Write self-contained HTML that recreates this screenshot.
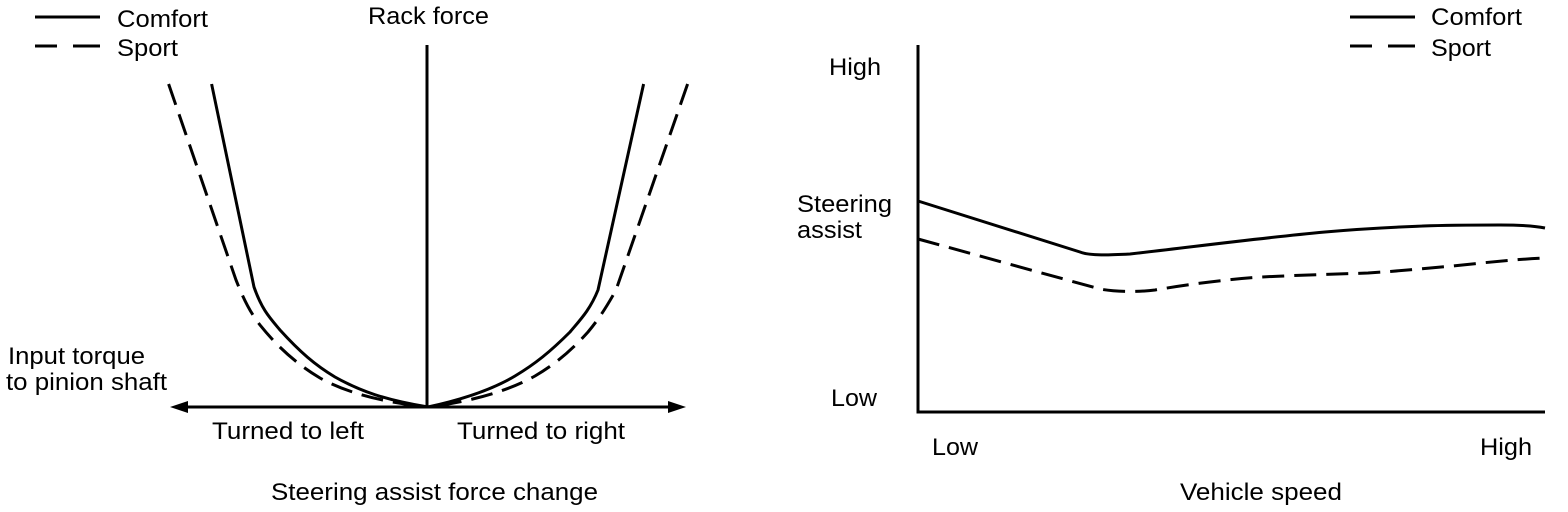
<!DOCTYPE html>
<html><head><meta charset="utf-8"><style>
html,body{margin:0;padding:0;background:#fff;}
svg{display:block}
text{font-family:"Liberation Sans",Arial,sans-serif;font-size:24px;fill:#000}
</style></head><body>
<svg width="1568" height="512" viewBox="0 0 1568 512" xmlns="http://www.w3.org/2000/svg">
<g stroke="#000" stroke-width="3" fill="none">
<line x1="35" y1="17" x2="100" y2="17"/>
<line x1="35" y1="46" x2="57" y2="46"/>
<line x1="73" y1="46" x2="100" y2="46"/>
<line x1="1350" y1="17" x2="1415" y2="17"/>
<line x1="1350" y1="46" x2="1372" y2="46"/>
<line x1="1388" y1="46" x2="1415" y2="46"/>
<line x1="427" y1="45" x2="427" y2="407"/>
<line x1="180" y1="407" x2="676" y2="407"/>
<path d="M211.6,84 L254,287 C262,310 270,318 280,330 C300,352 315,365 335,377 C360,391 385,400 428,407"/>
<path d="M643.6,84 L598,290 C590,310 580,320 570,332 C550,352 535,364 515,376 C495,388 465,399 428,407"/>
<path stroke-dasharray="22,10" d="M168.6,84 L236,280 C244,300 250,312 260,325 C280,350 300,366 320,378 C345,392 380,402 428,407"/>
<path stroke-dasharray="22,10" d="M687.6,84 L616,290 C606,308 598,320 588,332 C570,352 555,364 535,376 C510,390 475,401 428,407"/>
<line x1="918" y1="45" x2="918" y2="413"/>
<line x1="916.5" y1="412" x2="1545" y2="412"/>
<path d="M918,201 L1080,252 C1090,256 1110,255 1130,254 C1200,246 1260,238 1325,232 C1370,228 1400,227 1423,226 C1450,225 1480,225 1500,225 C1520,225 1535,226 1545,228"/>
<path stroke-dasharray="22,10" d="M918,239 L1100,289 C1115,292 1140,292 1155,290 C1190,284 1230,279 1262,277 C1300,275 1340,274 1368,273 C1400,271 1430,268 1453,266 C1490,262 1520,259 1545,258"/>
</g>
<polygon points="170,407 188,401 188,413" fill="#000"/>
<polygon points="686,407 668,401 668,413" fill="#000"/>
<text x="117" y="27" textLength="91" lengthAdjust="spacingAndGlyphs">Comfort</text>
<text x="117" y="56" textLength="61" lengthAdjust="spacingAndGlyphs">Sport</text>
<text x="368" y="24" textLength="121" lengthAdjust="spacingAndGlyphs">Rack force</text>
<text x="8" y="364" textLength="137" lengthAdjust="spacingAndGlyphs">Input torque</text>
<text x="6" y="390" textLength="161" lengthAdjust="spacingAndGlyphs">to pinion shaft</text>
<text x="212" y="439" textLength="152" lengthAdjust="spacingAndGlyphs">Turned to left</text>
<text x="457" y="439" textLength="168" lengthAdjust="spacingAndGlyphs">Turned to right</text>
<text x="271" y="500" textLength="327" lengthAdjust="spacingAndGlyphs">Steering assist force change</text>
<text x="1431" y="25" textLength="91" lengthAdjust="spacingAndGlyphs">Comfort</text>
<text x="1431" y="56" textLength="60" lengthAdjust="spacingAndGlyphs">Sport</text>
<text x="829" y="75" textLength="52" lengthAdjust="spacingAndGlyphs">High</text>
<text x="797" y="212" textLength="95" lengthAdjust="spacingAndGlyphs">Steering</text>
<text x="797" y="238" textLength="65" lengthAdjust="spacingAndGlyphs">assist</text>
<text x="831" y="406" textLength="46" lengthAdjust="spacingAndGlyphs">Low</text>
<text x="932" y="455" textLength="46" lengthAdjust="spacingAndGlyphs">Low</text>
<text x="1480" y="455" textLength="52" lengthAdjust="spacingAndGlyphs">High</text>
<text x="1180" y="500" textLength="162" lengthAdjust="spacingAndGlyphs">Vehicle speed</text>
</svg>
</body></html>
